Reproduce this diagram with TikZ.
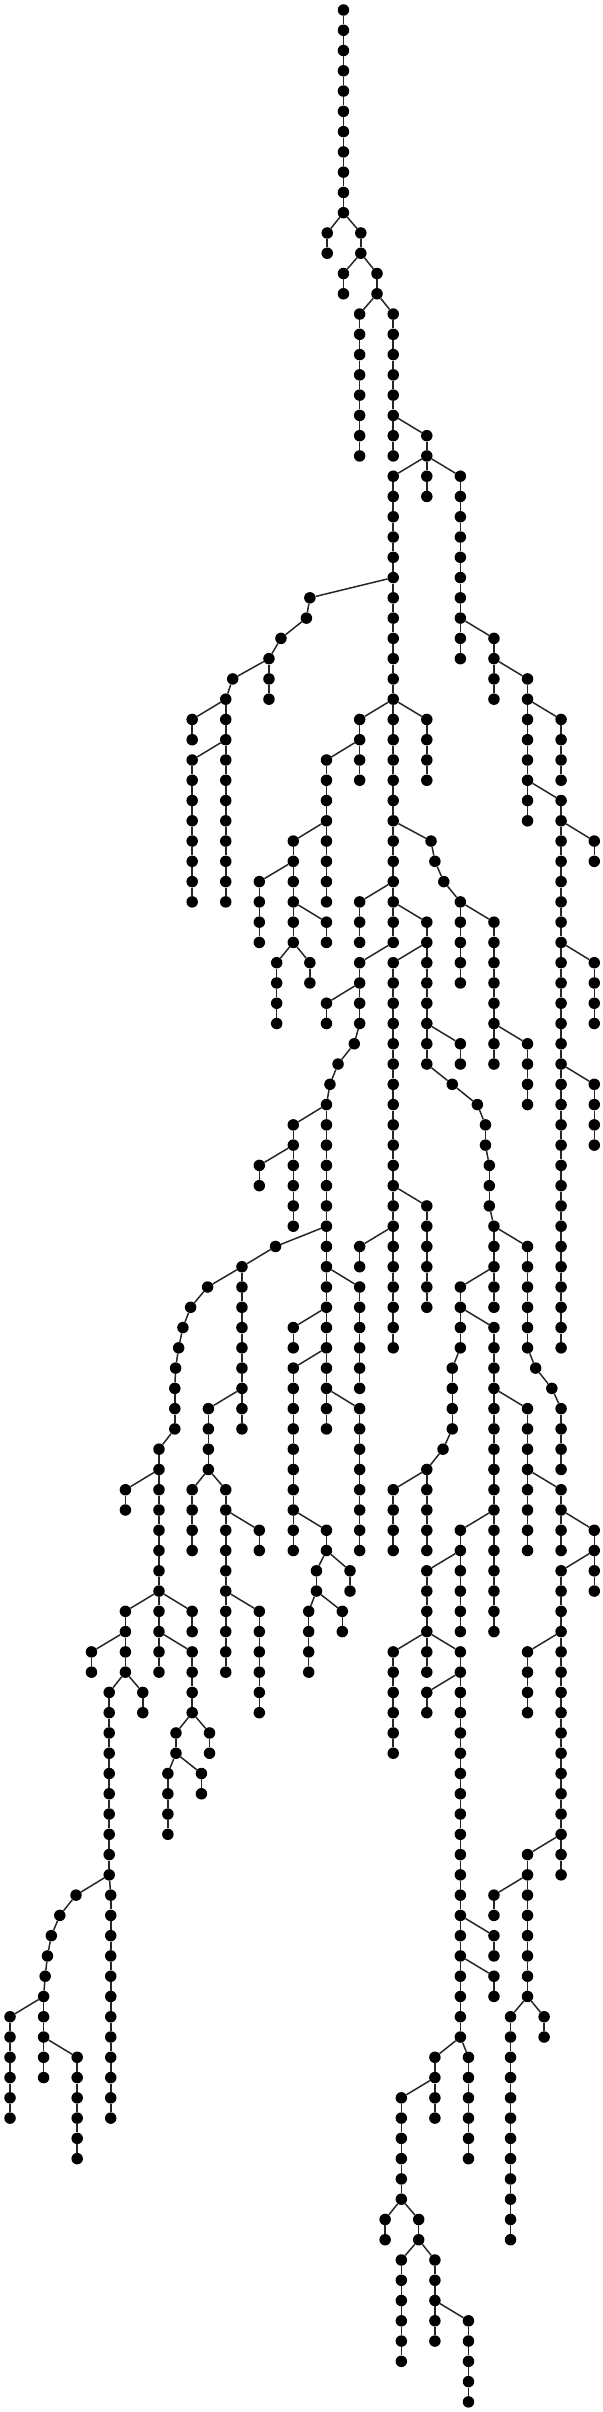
\documentclass[tikz,border=0pt]{standalone}
\usepackage{tikz}

\tikzset{
  vx/.style={circle,fill=black,inner sep=0pt,minimum size=11.5pt},
  ed/.style={draw=black!85,line width=1.5pt}
}

% one vertical run of vertices: column, first level, last level
\newcommand{\vchain}[3]{%
  \foreach \l [remember=\l as \p (initially #2)] in {#2,...,#3}{%
    \node[vx] (v#1-\l) at (#1,\l) {};
    \ifnum\l>#2\relax \draw[ed] (v#1-\p) -- (v#1-\l);\fi
  }%
}

\begin{document}
\begin{tikzpicture}[x=0.3859pt,y=-20.27pt]
  \useasboundingbox (0,-0.4933) rectangle (1560,118.50);

  % vertical runs
  \foreach \c/\a/\b in {890/0/10, 848/11/12, 935/11/12, 890/13/14, 977/13/14,
      932/15/22, 1019/15/22, 1106/21/22, 1019/23/46, 1106/23/24, 1193/23/32,
      803/29/29, 794/30/30, 728/31/31, 697/32/34, 603/33/33, 585/34/44,
      498/35/36, 498/37/44, 1280/31/34, 1367/33/40, 1454/35/38, 1454/39/66,
      1540/41/42, 1540/47/50, 1540/53/56, 932/35/38, 1106/35/38, 846/37/44,
      760/41/46, 672/43/46, 846/45/46, 717/47/50, 803/47/48,
      1117/41/41, 1127/42/42, 1150/43/43, 1193/44/48, 1280/45/52, 1367/51/54,
      932/44/46, 1106/45/52, 1193/51/52, 1172/53/53, 1237/54/54, 1258/55/56,
      1268/57/59, 1280/60/64, 1367/61/66, 1388/67/67, 1430/68/68, 1454/69/72,
      1193/63/66, 1172/67/70, 1148/71/71, 1106/72/76, 1019/73/76, 1280/65/80,
      1367/69/76, 1454/73/76, 1540/75/78, 1454/77/92, 1367/81/84, 1367/91/98,
      1280/93/94, 1410/99/100, 1323/99/110, 1193/75/80, 1106/77/82,
      1019/81/86, 1193/81/100, 1106/83/84, 1280/95/96, 1280/97/98,
      1214/101/106, 1127/101/104, 1040/103/108, 998/109/110, 1085/109/110,
      1040/111/116, 1127/111/115, 1214/114/118,
      1019/47/66, 1106/59/64, 932/61/62, 932/47/50, 846/49/50,
      918/51/51, 876/52/52, 855/53/53, 846/54/70, 760/55/60, 672/57/58,
      932/63/68, 760/65/66, 760/67/76, 932/69/76, 846/75/76, 907/77/78,
      820/77/78, 887/79/80, 800/79/82, 714/61/61, 627/62/70, 540/69/72,
      498/73/76, 585/73/82, 672/75/76, 672/79/84,
      538/63/63, 494/64/64, 474/65/65, 463/66/66, 455/67/67, 453/68/70,
      412/71/82, 325/73/74, 498/79/80, 325/79/82, 237/81/82, 370/83/84,
      283/83/92, 287/93/104, 197/93/93, 155/94/94, 133/95/95, 123/96/96,
      117/97/97, 113/98/102, 26/99/104, 200/101/106,
      498/81/84, 543/85/86, 456/85/86, 522/87/88, 435/87/90}
    {\vchain{\c}{\a}{\b}}

  % branching edges
  \foreach \s/\t in {890-10/848-11, 890-10/935-11, 935-12/890-13, 935-12/977-13,
      977-14/932-15, 977-14/1019-15, 1019-20/1106-21, 1106-22/1019-23,
      1106-22/1106-23, 1106-22/1193-23,
      1019-28/803-29, 803-29/794-30, 794-30/728-31, 728-31/697-32,
      697-32/603-33, 603-33/585-34, 585-34/498-35, 585-36/498-37,
      1193-30/1280-31, 1280-32/1367-33, 1367-34/1454-35, 1367-38/1454-39,
      1454-40/1540-41, 1454-46/1540-47, 1454-52/1540-53,
      1019-34/932-35, 1019-34/1106-35, 932-36/846-37, 846-40/760-41,
      760-42/672-43, 760-44/846-45, 760-46/717-47, 760-46/803-47,
      1019-40/1117-41, 1117-41/1127-42, 1127-42/1150-43, 1150-43/1193-44,
      1193-44/1280-45, 1280-50/1367-51,
      1019-43/932-44, 1019-44/1106-45, 1106-46/1019-47, 1106-50/1193-51,
      1106-52/1172-53, 1172-53/1237-54, 1237-54/1258-55, 1258-56/1268-57,
      1268-59/1280-60,
      1280-60/1367-61, 1367-66/1388-67, 1388-67/1430-68, 1430-68/1454-69,
      1280-62/1193-63, 1193-64/1280-65, 1193-66/1172-67, 1172-70/1148-71,
      1148-71/1106-72, 1106-72/1019-73,
      1280-68/1367-69, 1367-72/1454-73, 1454-74/1540-75, 1540-76/1454-77,
      1454-80/1367-81, 1454-90/1367-91, 1367-92/1280-93, 1367-98/1323-99,
      1367-98/1410-99,
      1280-74/1193-75, 1193-76/1106-77, 1106-80/1019-81, 1106-80/1193-81,
      1193-82/1106-83, 1193-94/1280-95, 1193-96/1280-97, 1193-100/1127-101,
      1193-100/1214-101, 1127-102/1040-103, 1040-108/998-109,
      1040-108/1085-109, 1085-110/1040-111, 1085-110/1127-111,
      1127-113/1214-114,
      1019-58/1106-59, 1019-60/932-61,
      1019-46/932-47, 932-48/846-49, 932-50/918-51, 918-51/876-52,
      876-52/855-53, 855-53/846-54,
      846-54/760-55, 760-56/672-57, 846-60/714-61, 846-62/932-63,
      846-64/760-65, 846-66/760-67, 846-68/932-69, 760-74/846-75,
      846-76/820-77, 846-76/907-77, 820-78/800-79, 820-78/887-79,
      714-61/627-62, 627-62/538-63, 627-68/540-69, 540-72/498-73,
      540-72/585-73, 585-74/672-75, 585-78/672-79,
      538-63/494-64, 494-64/474-65, 474-65/463-66, 463-66/455-67,
      455-67/453-68, 453-70/412-71, 412-72/325-73, 412-78/325-79,
      412-78/498-79, 412-80/498-81, 498-84/456-85, 498-84/543-85,
      456-86/435-87, 456-86/522-87,
      325-80/237-81, 325-82/283-83, 325-82/370-83, 283-92/197-93,
      283-92/287-93, 197-93/155-94, 155-94/133-95, 133-95/123-96,
      123-96/117-97, 117-97/113-98, 113-98/26-99, 113-100/200-101}
    {\draw[ed] (v\s) -- (v\t);}
\end{tikzpicture}
\end{document}
